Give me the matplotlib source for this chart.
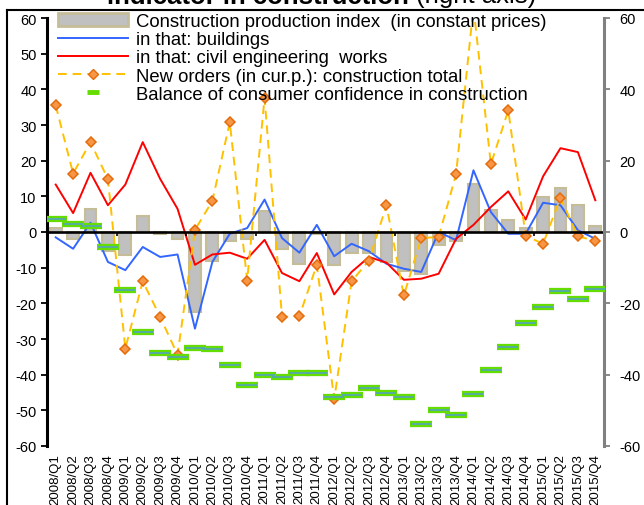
import matplotlib.pyplot as plt
import numpy as np
from matplotlib.lines import Line2D
from matplotlib.patches import Patch

plt.rcParams['font.family'] = ['Liberation Sans', 'DejaVu Sans']
plt.rcParams['axes.unicode_minus'] = False

quarters = [f"{y}/Q{q}" for y in range(2008, 2016) for q in range(1, 5)]

# construction production index (bars)
production = [1.1, -2.1, 6.5, -5.2, -6.4, 4.4, -0.6, -2.1,
              -22.4, -8.0, -2.6, -2.1, 5.9, -4.7, -8.9, -0.5,
              -9.3, -5.8, -5.8, -8.4, -11.0, -11.7, -3.7, -2.6,
              13.5, 6.1, 3.3, 1.1, 9.8, 12.3, 7.5, 1.6]
# in that: buildings
buildings = [-1.5, -4.7, 2.6, -8.4, -10.7, -4.2, -7.0, -6.3,
             -27.1, -8.4, -0.5, 1.1, 9.1, -1.7, -5.8, 2.0,
             -6.8, -3.3, -5.4, -8.9, -10.3, -11.2, 0.0, -2.3,
             17.3, 5.6, -0.5, -0.5, 8.2, 7.5, 0.5, -1.9]
# in that: civil engineering works
civil = [13.3, 5.3, 16.6, 7.5, 13.3, 25.2, 14.9, 6.5,
         -9.2, -6.3, -5.8, -7.5, -2.2, -11.5, -13.8, -5.9,
         -17.5, -11.2, -7.0, -8.6, -13.4, -13.1, -11.7, -1.9,
         2.0, 7.0, 11.4, 3.5, 15.6, 23.5, 22.4, 8.9]
# new orders (current prices)
orders = [35.5, 16.4, 25.2, 14.8, -32.7, -13.8, -23.8, -34.4,
          0.6, 8.7, 30.8, -13.6, 37.6, -23.8, -23.6, -9.2,
          -46.9, -13.8, -8.0, 7.5, -17.8, -1.7, -1.4, 16.2,
          63.0, 19.0, 34.1, -1.1, -3.3, 9.6, -1.2, -2.5]
# balance of consumer confidence in construction (right axis)
confidence = [3.7, 2.3, 1.6, -4.3, -16.4, -28.0, -33.8, -35.1,
              -32.4, -32.7, -37.2, -42.8, -40.2, -40.7, -39.4, -39.6,
              -46.3, -45.6, -43.7, -45.0, -46.3, -53.7, -49.8, -51.2,
              -45.5, -38.6, -32.3, -25.4, -21.0, -16.5, -18.9, -15.9]

x = np.arange(len(quarters))

fig = plt.figure(figsize=(6.44, 5.06), dpi=100)
ax = fig.add_axes([47/644, 1-447/506, (604-47)/644, (447-19)/506])
ax2 = ax.twinx()

ax.bar(x, production, width=0.68, color='#C0C0C0', edgecolor='#C4BD97', linewidth=1.5, zorder=2)
ax.plot(x, buildings, color='#3366FF', lw=1.4, zorder=3)
ax.plot(x, civil, color='#FF0000', lw=1.4, zorder=3)
ax.plot(x, orders, color='#FFC000', lw=1.4, ls=(0, (4.5, 3)), marker='D', ms=5.5,
        mfc='#F79646', mec='#E46C0A', mew=1.1, zorder=4)
ax.axhline(0, color='black', lw=1.9, zorder=5)
ax.vlines(np.arange(4, 32, 4) - 0.5, -1.2, 0, color='black', lw=1.2, zorder=5)

ax2.plot(x, confidence, ls='none', marker='_', ms=16.5, mew=4.5, color='#66DD00', zorder=6)
ax2.plot(x, confidence, ls='none', marker='_', ms=14, mew=1.1, color='#4F9FD0', zorder=7)

for a in (ax, ax2):
    a.set_xlim(-0.5, len(x) - 0.5)
    a.set_ylim(-60, 60)
    a.spines['top'].set_visible(False)
    a.spines['bottom'].set_visible(False)

ax.set_yticks(np.arange(-60, 61, 10))
ax2.set_yticks(np.arange(-60, 61, 20))
ax.spines['left'].set_linewidth(2.2)
ax.spines['right'].set_visible(False)
ax2.spines['left'].set_visible(False)
ax2.spines['right'].set_linewidth(2.2)
ax2.spines['right'].set_color('#808080')
ax.tick_params(axis='y', labelsize=10.5, length=4, width=1.3, direction='out')
ax2.tick_params(axis='y', labelsize=10.5, length=4, width=1.3, color='#808080',
                direction='out', pad=7)
ax.set_xticks(x)
ax.set_xticklabels(quarters, rotation=90, fontsize=9.5)
ax.tick_params(axis='x', length=0, pad=5)

handles = [
    Patch(facecolor='#C0C0C0', edgecolor='#C4BD97', linewidth=2),
    Line2D([], [], color='#3366FF', lw=1.4),
    Line2D([], [], color='#FF0000', lw=1.4),
    Line2D([], [], color='#FFC000', lw=1.4, ls=(0, (4.5, 3)), marker='D', ms=5.5,
           mfc='#F79646', mec='#E46C0A'),
    Line2D([], [], ls='none', marker='_', ms=8.5, mew=3.5, color='#66DD00'),
]
labels = [
    'Construction production index  (in constant prices)',
    'in that: buildings',
    'in that: civil engineering  works',
    'New orders (in cur.p.): construction total',
    'Balance of consumer confidence in construction',
]
ax2.legend(handles, labels, loc='upper left', bbox_to_anchor=(55/644, 1-11.5/506),
           bbox_transform=fig.transFigure, frameon=False, fontsize=13.3,
           handlelength=3.8, handletextpad=0.45, labelspacing=0.06,
           borderpad=0.15, borderaxespad=0)

# title, cut off at the top like the original
fig.text(409/644, 1-3.5/506, 'indicator in construction', ha='right', va='baseline',
         fontsize=18.5, fontweight='bold')
fig.text(416/644, 1-3.5/506, '(right axis)', ha='left', va='baseline', fontsize=18.5)

# frame
fig.add_artist(Line2D([6.5/644, 6.5/644], [0, 1-10.7/506], transform=fig.transFigure, color='black', lw=1.5))
fig.add_artist(Line2D([6.5/644, 1], [1-10.7/506, 1-10.7/506], transform=fig.transFigure, color='black', lw=1.5))

fig.savefig('out.png', dpi=100)
